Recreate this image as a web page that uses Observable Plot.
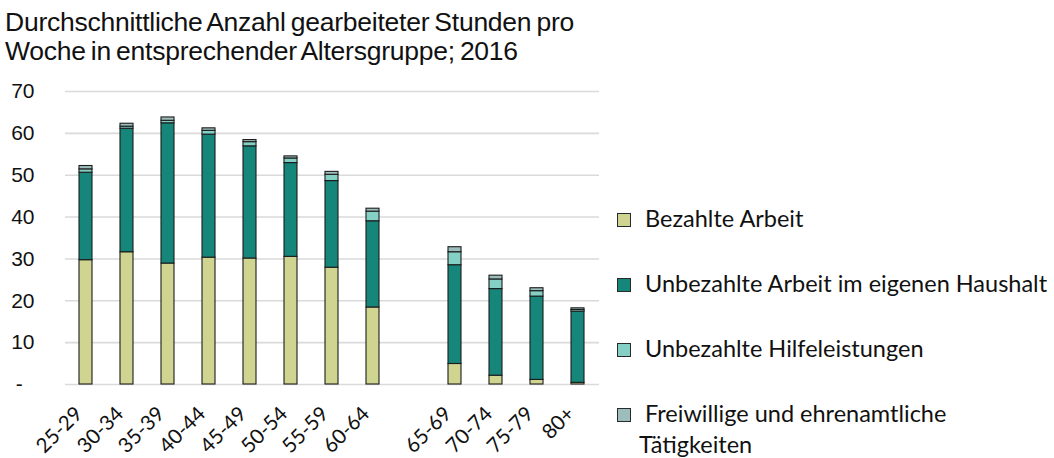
<!DOCTYPE html>
<html>
<head>
<meta charset="utf-8">
<script src="https://cdn.jsdelivr.net/npm/d3@7"></script>
<script src="https://cdn.jsdelivr.net/npm/@observablehq/plot@0.6"></script>
<style>
  html, body { margin: 0; padding: 0; background: #fff; }
  #wrap { position: relative; width: 1054px; height: 458px; overflow: hidden; }
  #title { position: absolute; left: 5px; top: 8px; font-family: "Liberation Sans", Arial, sans-serif; font-size: 26.5px; line-height: 29px; color: #111; letter-spacing: -0.25px; word-spacing: -2px; }
  #chart { position: absolute; left: 0; top: 80px; }
  .leg-sq { position: absolute; width: 12px; height: 12px; border: 1px solid #2a2a2a; }
  .leg-tx { position: absolute; font-family: Lato, "Noto Sans", sans-serif; font-size: 23.5px; line-height: 31px; color: #111; white-space: nowrap; }
</style>
</head>
<body>
<div id="wrap">
  <div id="title">Durchschnittliche Anzahl gearbeiteter Stunden pro<br>Woche in entsprechender Altersgruppe; 2016</div>
  <div id="chart"></div>
  <div id="legend"></div>
</div>
<script>
// ---- data ----
const ageGroups = ["25-29","30-34","35-39","40-44","45-49","50-54","55-59","60-64","65-69","70-74","75-79","80+"];
const seriesNames = ["Bezahlte Arbeit","Unbezahlte Arbeit im eigenen Haushalt","Unbezahlte Hilfeleistungen","Freiwillige und ehrenamtliche Tätigkeiten"];
const seriesColors = ["#cfd491","#16857a","#84d0c4","#9cbdbb"];
const paidWork      = [29.7, 31.6, 28.9, 30.3, 30.1, 30.5, 27.9, 18.4, 4.9, 2.1, 1.1, 0.4];
const householdWork = [20.9, 29.5, 33.5, 29.4, 26.8, 22.4, 20.7, 20.6, 23.6, 20.7, 19.9, 17.0];
const unpaidHelp    = [0.8, 0.5, 0.6, 0.9, 1.0, 1.1, 1.5, 2.3, 3.1, 2.3, 1.3, 0.4];
const volunteering  = [0.8, 0.7, 0.8, 0.6, 0.5, 0.5, 0.7, 0.7, 1.2, 0.9, 0.7, 0.4];
const yTicks = [0, 10, 20, 30, 40, 50, 60, 70];

// gap slot between 60-64 and 65-69
const GAP = "\u2009";
const xDomain = [...ageGroups.slice(0, 8), GAP, ...ageGroups.slice(8)];

const seriesValues = [paidWork, householdWork, unpaidHelp, volunteering];
const rows = [];
ageGroups.forEach((age, i) => {
  seriesNames.forEach((name, s) => {
    rows.push({age, series: name, value: seriesValues[s][i]});
  });
});

const chart = Plot.plot({
  width: 610,
  height: 378,
  marginTop: 11,
  marginBottom: 74,
  marginLeft: 65,
  marginRight: 11,
  style: {fontFamily: "Lato, 'Noto Sans', sans-serif", fontSize: "19px", color: "#111", background: "transparent"},
  x: {domain: xDomain, paddingInner: 0.68, paddingOuter: 0.34, label: null},
  y: {domain: [0, 70], label: null},
  color: {domain: seriesNames, range: seriesColors},
  marks: [
    Plot.gridY(yTicks, {stroke: "#dadada", strokeOpacity: 1, strokeWidth: 1.6}),
    Plot.barY(rows, {x: "age", y: "value", fill: "series", stroke: "#1c1c1c", strokeWidth: 1.1}),
    Plot.axisY({ticks: yTicks, tickSize: 0, tickPadding: 31, fontSize: 21, fontFamily: "'Liberation Sans', Arial, sans-serif",
      tickFormat: d => d === 0 ? "-\u00a0\u00a0" : String(d), label: null}),
    Plot.axisX({ticks: ageGroups, tickSize: 0, tickPadding: 26, dx: -7, tickRotate: -45, fontSize: 20.5, label: null})
  ]
});
document.getElementById("chart").appendChild(chart);

// ---- legend (right side) ----
const legend = document.getElementById("legend");
const legTop = 213, legStep = 65;
seriesNames.forEach((name, i) => {
  const sq = document.createElement("div");
  sq.className = "leg-sq";
  sq.style.left = "617px";
  sq.style.top = (legTop + i * legStep) + "px";
  sq.style.background = seriesColors[i];
  legend.appendChild(sq);
  const tx = document.createElement("div");
  tx.className = "leg-tx";
  tx.style.left = "645px";
  tx.style.top = (legTop + i * legStep - 10) + "px";
  if (i === 3) {
    tx.innerHTML = "Freiwillige und ehrenamtliche<br><span style='margin-left:-6px'>Tätigkeiten</span>";
  } else {
    tx.textContent = name;
  }
  legend.appendChild(tx);
});
</script>
</body>
</html>
